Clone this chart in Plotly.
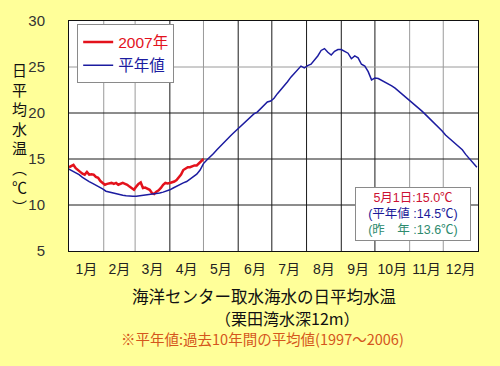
import plotly.graph_objects as go

# ---- data ----
month_labels = ["1月", "2月", "3月", "4月", "5月", "6月", "7月", "8月", "9月", "10月", "11月", "12月"]
month_starts = [1, 32, 60, 91, 121, 152, 182, 213, 244, 274, 305, 335, 366]

normal_days = list(range(1, 366, 3)) + [365]
normal_temp = [
    13.9, 13.7, 13.5, 13.3, 13.0, 12.75, 12.55, 12.35, 12.15, 12.0,
    11.75, 11.5, 11.4, 11.3, 11.2, 11.1, 11.05, 11.0, 10.95, 10.95,
    10.95, 11.0, 11.05, 11.05, 11.1, 11.15, 11.2, 11.3, 11.4, 11.5,
    11.65, 11.85, 12.05, 12.25, 12.4, 12.55, 12.85, 13.1, 13.35, 13.8,
    14.5, 14.9, 15.2, 15.6, 16.0, 16.4, 16.75, 17.1, 17.5, 17.85,
    18.2, 18.5, 18.9, 19.3, 19.6, 19.9, 20.1, 20.5, 20.9, 21.2,
    21.3, 21.6, 22.1, 22.5, 22.95, 23.4, 23.9, 24.3, 24.8, 25.1,
    24.9, 25.15, 25.3, 25.7, 26.2, 26.8, 27.0, 26.6, 26.3, 26.7,
    26.9, 26.9, 26.7, 26.5, 25.9, 26.2, 26.0, 25.3, 25.1, 24.5,
    23.6, 23.8, 23.75, 23.55, 23.4, 23.2, 22.95, 22.7, 22.4, 22.1,
    21.8, 21.4, 21.1, 20.85, 20.6, 20.2, 19.85, 19.5, 19.1, 18.75,
    18.4, 18.05, 17.6, 17.3, 16.95, 16.65, 16.35, 16.0, 15.5, 15.1,
    14.75, 14.35, 14.1,
]

y2007_days = list(range(1, 122, 2))
y2007_temp = [
    14.1, 14.2, 14.35, 14.0, 13.75, 13.6, 13.4, 13.3, 13.6, 13.3,
    13.35, 13.3, 13.05, 12.95, 12.6, 12.35, 12.2, 12.3, 12.35, 12.4,
    12.3, 12.4, 12.2, 12.3, 12.4, 12.3, 12.2, 12.0, 11.8, 11.65,
    12.0, 12.3, 12.45, 11.85, 11.9, 11.8, 11.65, 11.3, 11.2, 11.45,
    11.6, 11.85, 12.2, 12.4, 12.35, 12.4, 12.45, 12.55, 12.7, 12.95,
    13.3, 13.8, 14.0, 14.1, 14.1, 14.2, 14.3, 14.3, 14.55, 14.7,
    15.0,
]

y_ticks = [5, 10, 15, 20, 25, 30]
h_grid_vals = [10, 15, 20, 25]
h_grid_cols = ["#1a1a1a", "#1a1a1a", "#1a1a1a", "#9a9a9a"]
v_grid_cols = ["#9a9a9a", "#9a9a9a", "#1a1a1a", "#9a9a9a", "#1a1a1a", "#1a1a1a",
               "#1a1a1a", "#1a1a1a", "#1a1a1a", "#9a9a9a", "#9a9a9a"]

FONT = "Liberation Sans, Noto Sans CJK JP, sans-serif"
JFONT = "Noto Sans CJK JP, Liberation Sans, sans-serif"
RED = "#e3121c"
BLUE = "#1c1ca0"

month_mids = [(a + b) / 2 for a, b in zip(month_starts[:-1], month_starts[1:])]

fig = go.Figure()
fig.add_trace(go.Scatter(
    x=y2007_days, y=y2007_temp, mode="lines",
    name="<span style='color:%s'>2007年</span>" % RED,
    line=dict(color=RED, width=2.5),
))
fig.add_trace(go.Scatter(
    x=normal_days, y=normal_temp, mode="lines",
    name="<span style='color:%s'>平年値</span>" % BLUE,
    line=dict(color=BLUE, width=1.5),
))

shapes = []
for v, c in zip(month_starts[1:-1], v_grid_cols):
    shapes.append(dict(type="line", xref="x", yref="paper", x0=v, x1=v, y0=0, y1=1,
                       line=dict(color=c, width=1), layer="below"))
for v, c in zip(h_grid_vals, h_grid_cols):
    shapes.append(dict(type="line", xref="paper", yref="y", x0=0, x1=1, y0=v, y1=v,
                       line=dict(color=c, width=1), layer="below"))

def ann(x, y, text, font, **kw):
    d = dict(xref="paper", yref="paper", x=x, y=y, showarrow=False, text=text,
             font=font, xanchor="center", yanchor="middle")
    d.update(kw)
    return d

annotations = [
    ann(-0.12, 0.49, "日<br>平<br>均<br>水<br>温<br>︵<br>℃<br>︶",
        dict(family=JFONT, size=15, color="#111"), align="center"),
    ann(0.84, 0.159,
        ("<span style='color:#cc1133'>5月1日:15.0℃</span><br>"
         "<span style='color:#1a1a99'>(平年値 :14.5℃)</span><br>"
         "<span style='color:#2e8b6e'>(昨　年 :13.6℃)</span>"),
        dict(family=FONT, size=12.5), align="center", width=112, height=50,
        bgcolor="white", bordercolor="#8a8a8a", borderwidth=1, borderpad=1),
    ann(0.477, -0.195, "海洋センター取水海水の日平均水温",
        dict(family=JFONT, size=16.5, color="#111")),
    ann(0.535, -0.290, "（栗田湾水深12m）",
        dict(family=JFONT, size=16, color="#111")),
    ann(0.474, -0.381, "※平年値:過去10年間の平均値(1997～2006)",
        dict(family=JFONT, size=14.5, color="#d4561c")),
]

fig.update_layout(
    width=500, height=366,
    margin=dict(l=69, r=22, t=15, b=115),
    paper_bgcolor="#ffff99", plot_bgcolor="white",
    font=dict(family=FONT, color="#222"),
    showlegend=True,
    legend=dict(x=0.02, y=0.985, xanchor="left", yanchor="top",
                bgcolor="white", bordercolor="#8a8a8a", borderwidth=1,
                font=dict(family=FONT, size=15.5), tracegroupgap=0,
                itemwidth=30),
    shapes=shapes, annotations=annotations,
    xaxis=dict(range=[1, 366], tickvals=month_mids, ticktext=month_labels,
               showgrid=False, zeroline=False, showline=True, linecolor="#111",
               linewidth=1, mirror=True, ticks="", ticklabelstandoff=5,
               tickfont=dict(family=FONT, size=14, color="#222")),
    yaxis=dict(range=[5, 30], tickvals=y_ticks, showgrid=False, zeroline=False,
               showline=True, linecolor="#111", linewidth=1, mirror=True,
               ticks="", ticklabelstandoff=20,
               tickfont=dict(family=FONT, size=15, color="#333")),
)

fig.write_html("out.html", config={"displayModeBar": False},
               post_script="document.body.style.margin='0px';")
